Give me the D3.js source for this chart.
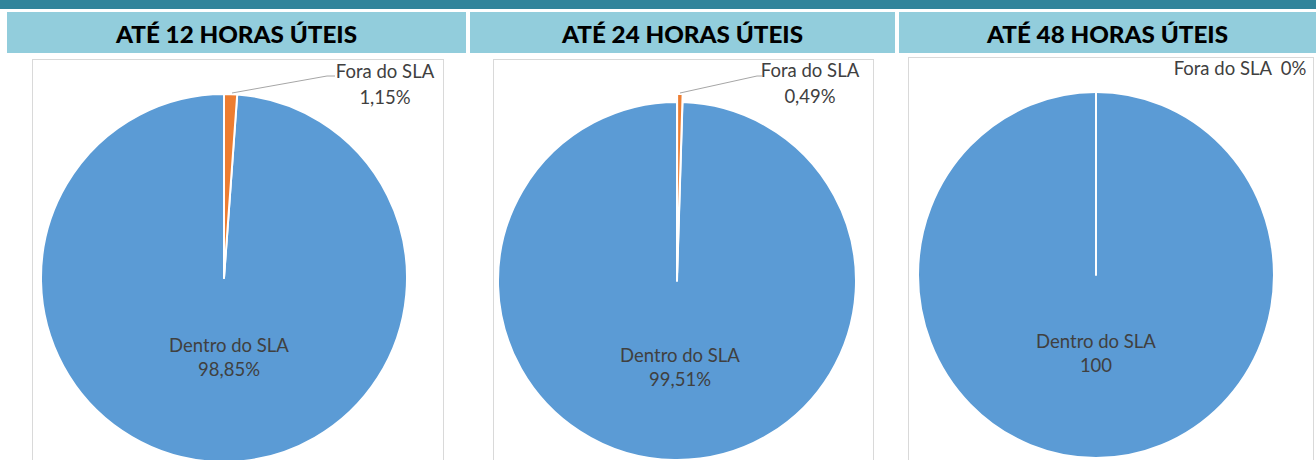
<!DOCTYPE html>
<html>
<head>
<meta charset="utf-8">
<script src="https://cdn.jsdelivr.net/npm/d3@7/dist/d3.min.js"></script>
<style>
  html, body { margin: 0; padding: 0; background: #fff; }
  svg { display: block; }
  text { font-family: Lato, "Noto Sans", sans-serif; }
</style>
</head>
<body>
<svg id="chart" width="1316" height="460"></svg>
<script>
// ---- data ----
const titles = ["ATÉ 12 HORAS ÚTEIS", "ATÉ 24 HORAS ÚTEIS", "ATÉ 48 HORAS ÚTEIS"];
const categories = ["Fora do SLA", "Dentro do SLA"];
const foraValues = [1.15, 0.49, 0];
const dentroValues = [98.85, 99.51, 100];
const foraLabels = ["1,15%", "0,49%", "0%"];
const dentroLabels = ["98,85%", "99,51%", "100"];
const colors = ["#ED7D31", "#5B9BD5"];

// ---- layout ----
const layout = [
  { hx: 7,   hw: 459, bx: 32.5,  bw: 411, by: 59.5, cx: 224,  cy: 278, rx: 183, ry: 184, explode: 0,
    fora: { x: 385, y1: 78, y2: 104, inline: false, leader: [[232, 93], [327, 76], [335, 76]] },
    dentro: { x: 229, y1: 352, y2: 376 } },
  { hx: 470, hw: 425, bx: 493.5, bw: 380, by: 59.5, cx: 677,  cy: 281, rx: 179, ry: 179, explode: 8,
    fora: { x: 810, y1: 77, y2: 103, inline: false, leader: [[680, 93], [757, 76], [762, 76]] },
    dentro: { x: 680, y1: 362, y2: 386 } },
  { hx: 899, hw: 417, bx: 908.5, bw: 405, by: 57.5, cx: 1096, cy: 275, rx: 178, ry: 183, explode: 0,
    fora: { x: 1240, y1: 75, inline: true },
    dentro: { x: 1096, y1: 348, y2: 372 } }
];

const svg = d3.select("#chart");

// top dark band
svg.append("rect").attr("x", 0).attr("y", 0).attr("width", 1316).attr("height", 9)
  .attr("fill", "#31849B");

const pie = d3.pie().sort(null).value(d => d.value);

titles.forEach((title, i) => {
  const L = layout[i];
  const g = svg.append("g");

  // header
  g.append("rect").attr("x", L.hx).attr("y", 12).attr("width", L.hw).attr("height", 41)
    .attr("fill", "#92CDDC");
  g.append("text")
    .attr("x", L.hx + L.hw / 2).attr("y", 42.5)
    .attr("text-anchor", "middle")
    .attr("font-size", 23).attr("font-weight", 900).attr("fill", "#000")
    .attr("textLength", 241).attr("lengthAdjust", "spacingAndGlyphs")
    .text(title);

  // chart frame
  g.append("rect").attr("x", L.bx).attr("y", L.by).attr("width", L.bw).attr("height", 460)
    .attr("fill", "#fff").attr("stroke", "#D9D9D9").attr("stroke-width", 1);

  // pie
  const data = [
    { cat: categories[0], value: foraValues[i] },
    { cat: categories[1], value: dentroValues[i] }
  ];
  const arcs = pie(data);
  const arc = d3.arc().innerRadius(0).outerRadius(L.rx);
  const pg = g.append("g")
    .attr("transform", `translate(${L.cx},${L.cy}) scale(1,${L.ry / L.rx})`);

  // draw Dentro first, then Fora on top
  [1, 0].forEach(k => {
    const a = arcs[k];
    const mid = (a.startAngle + a.endAngle) / 2;
    const e = k === 0 ? L.explode : 0;
    pg.append("path")
      .attr("d", arc(a))
      .attr("transform", `translate(${Math.sin(mid) * e},${-Math.cos(mid) * e})`)
      .attr("fill", colors[k])
      .attr("stroke", "#fff")
      .attr("stroke-width", 2)
      .attr("stroke-linejoin", "round");
  });

  // Fora label
  const f = L.fora;
  if (f.leader) {
    g.append("path")
      .attr("d", d3.line()(f.leader))
      .attr("fill", "none").attr("stroke", "#A6A6A6").attr("stroke-width", 1);
  }
  if (f.inline) {
    g.append("text").attr("x", f.x).attr("y", f.y1).attr("text-anchor", "middle")
      .attr("font-size", 18.5).attr("fill", "#404040")
      .style("white-space", "pre")
      .text(categories[0] + "  " + foraLabels[i]);
  } else {
    g.append("text").attr("x", f.x).attr("y", f.y1).attr("text-anchor", "middle")
      .attr("font-size", 18.5).attr("fill", "#404040").text(categories[0]);
    g.append("text").attr("x", f.x).attr("y", f.y2).attr("text-anchor", "middle")
      .attr("font-size", 18.5).attr("fill", "#404040").text(foraLabels[i]);
  }

  // Dentro label
  const d = L.dentro;
  g.append("text").attr("x", d.x).attr("y", d.y1).attr("text-anchor", "middle")
    .attr("font-size", 18.5).attr("fill", "#404040").text(categories[1]);
  g.append("text").attr("x", d.x).attr("y", d.y2).attr("text-anchor", "middle")
    .attr("font-size", 18.5).attr("fill", "#404040").text(dentroLabels[i]);
});
</script>
</body>
</html>
